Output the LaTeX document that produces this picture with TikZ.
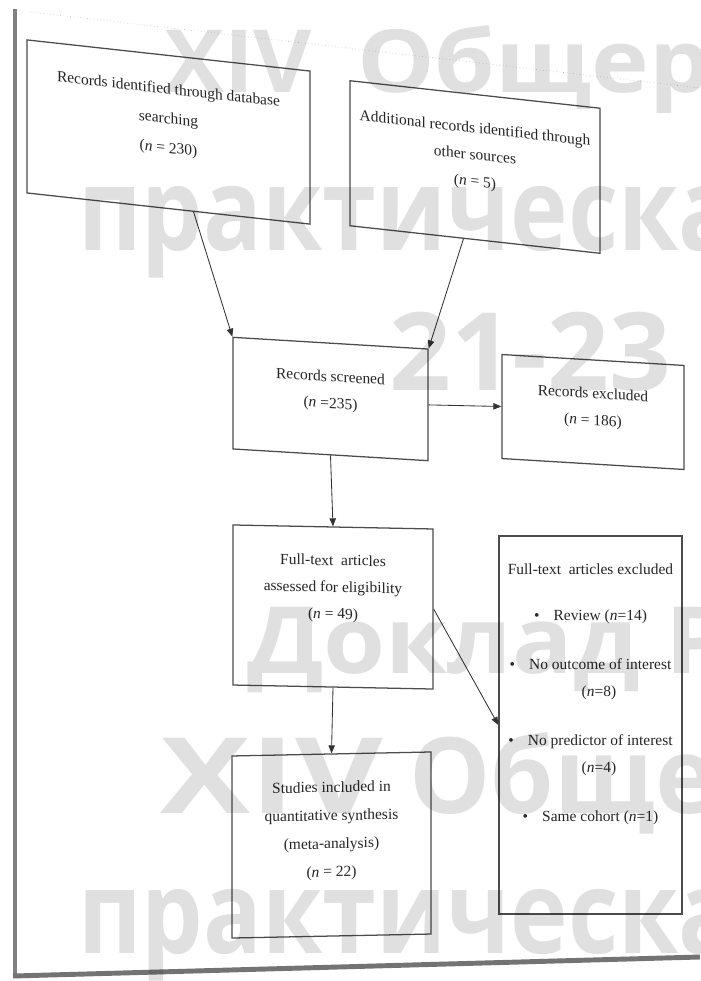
\documentclass[tikz,border=0pt]{standalone}
\usepackage{fontspec}
\setmainfont{Liberation Serif}
\newfontfamily\wmfont{Open Sans}
\usetikzlibrary{arrows.meta}

\begin{document}
\begin{tikzpicture}[
  x=0.025cm, y=-0.025cm,
  box/.style={rectangle, draw=black!70, line width=0.9pt, inner sep=0pt},
  txt/.style={anchor=north, align=center, inner sep=0pt, yshift=-0.7cm,
              text=black!85, font=\fontsize{11}{19}\selectfont},
  flowarrow/.style={-{Triangle[length=2mm, width=1.6mm]}, line width=0.6pt, black!80},
  wm/.style={anchor=base west, inner sep=0pt, text=black, text opacity=0.12}
]
\useasboundingbox (0,0) rectangle (700,981);
\fill[white] (0,0) rectangle (700,981);

% Page edges
\draw[black!50, line width=3.5pt] (15,9) -- (15,976);
\draw[black!55, line width=3.5pt] (13,976) -- (700,957);
\draw[black!30, dotted] (30,12) -- (700,88);

% Boxes
\node[box, minimum width=7.075cm, minimum height=3.825cm, yslant=-0.11] (ident) at (168.5,132) {};
\node[box, minimum width=6.25cm, minimum height=3.625cm, yslant=-0.11] (other) at (475,167) {};
\node[box, minimum width=4.875cm, minimum height=2.79cm, yslant=-0.06] (screen) at (330.5,399) {};
\node[box, minimum width=4.55cm, minimum height=2.6cm, yslant=-0.06] (recex) at (593,412) {};
\node[box, minimum width=5cm, minimum height=4cm, yslant=-0.02] (fulltext) at (333,607) {};
\node[box, minimum width=4.575cm, minimum height=9.45cm] (fullex) at (590.5,725) {};
\node[box, minimum width=4.975cm, minimum height=4.55cm, yslant=0.02] (incl) at (331.5,845) {};

% Box texts
\node[txt, yslant=-0.11, font=\fontsize{11}{21}\selectfont] (identtxt) at (ident.north)
  {Records identified through database\\ searching\\ (\textit{n} = 230)};
\node[txt, yslant=-0.11] (othertxt) at (other.north)
  {Additional records identified through\\ other sources\\ (\textit{n} = 5)};
\node[txt, yslant=-0.06] (screentxt) at (screen.north)
  {Records screened\\ (\textit{n} =235)};
\node[txt, yslant=-0.06] (recextxt) at (recex.north)
  {Records excluded\\ (\textit{n} = 186)};
\node[txt, yslant=-0.02] (fulltexttxt) at (fulltext.north)
  {Full-text\ \ articles\\ assessed for eligibility\\ (\textit{n} = 49)};
\node[txt] (fullextxt) at (fullex.north)
  {Full-text\ \ articles excluded\\[14pt]
   \textbullet\hspace{10pt}Review (\textit{n}=14)\\[16pt]
   \textbullet\hspace{10pt}No outcome of interest\\
   \hspace*{12pt}(\textit{n}=8)\\[16pt]
   \textbullet\hspace{10pt}No predictor of interest\\
   \hspace*{12pt}(\textit{n}=4)\\[16pt]
   \textbullet\hspace{10pt}Same cohort (\textit{n}=1)};
\node[txt, yslant=0.02, font=\fontsize{11}{20}\selectfont] (incltxt) at (incl.north)
  {Studies included in\\ quantitative synthesis\\ (meta-analysis)\\ (\textit{n} = 22)};

% Flow arrows
\draw[flowarrow] (ident.-72) -- (screen.north west);
\draw[flowarrow] (other.-99) -- (screen.north east);
\draw[flowarrow] (screen.east) -- (recex.west);
\draw[flowarrow] (screen.south) -- (fulltext.north);
\draw[flowarrow] (fulltext.east) -- (fullex.west);
\draw[flowarrow] (fulltext.south) -- (incl.north);

% Watermark
\begin{scope}
  \clip (0,0) rectangle (700,981);
  \node[wm, xscale=1.12, font=\wmfont\bfseries\fontsize{62}{62}\selectfont] (wmtop) at (164,92)
    {\scalebox{0.92}[1]{XIV}\hspace{0.2em} Общер};
  \node[wm, xscale=0.845, font=\wmfont\bfseries\fontsize{82}{82}\selectfont] (wmprak) at (78,250) {практическа};
  \node[wm, font=\wmfont\bfseries\fontsize{77}{77}\selectfont] (wmdate) at (389,390) {21-23};
  \node[wm, xscale=1.08, font=\wmfont\bfseries\fontsize{66}{66}\selectfont] (wmdok) at (247,673) {Доклад Р};
  \node[wm, xscale=0.97, font=\wmfont\bfseries\fontsize{75}{75}\selectfont] (wmmid) at (160,813)
    {\scalebox{1.32}[1]{XIV} Общер};
  \node[wm, xscale=0.845, font=\wmfont\bfseries\fontsize{82}{82}\selectfont] (wmbot) at (78,953) {практическа};
\end{scope}
\end{tikzpicture}
\end{document}
